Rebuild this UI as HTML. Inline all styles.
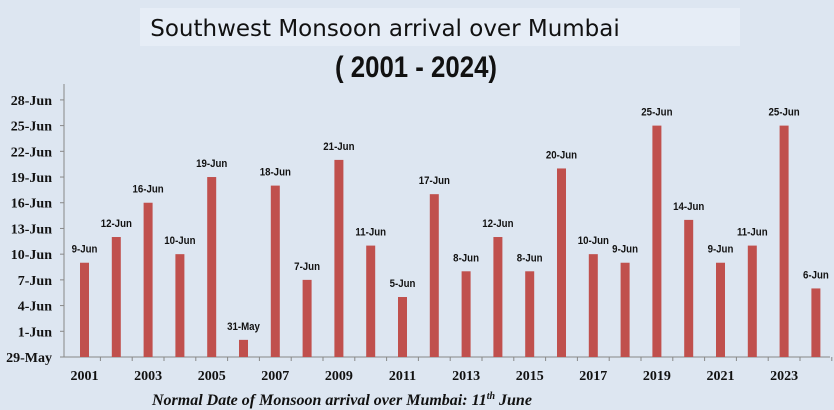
<!DOCTYPE html>
<html><head><meta charset="utf-8"><style>
body{margin:0;width:834px;height:410px;background:#dfe7f1;overflow:hidden;font-family:"Liberation Sans",sans-serif}
svg{display:block}
</style></head><body>
<svg width="834" height="410">
<rect x="0" y="0" width="834" height="410" fill="#dde6f1"/>
<rect x="140" y="8" width="600" height="38" fill="#e6edf6"/>
<text x="385" y="36" text-anchor="middle" font-size="23" fill="#111" font-family="'DejaVu Sans',sans-serif">Southwest Monsoon arrival over Mumbai</text>
<text x="335" y="77" font-size="30" font-weight="bold" fill="#111" textLength="162" lengthAdjust="spacingAndGlyphs" font-family="'Liberation Sans',sans-serif">( 2001 - 2024)</text>
<g id="axes"></g>
<g id="bars"></g>
<text x="152" y="405" font-size="16" font-style="italic" font-weight="bold" font-family="'Liberation Serif',serif" fill="#111">Normal Date of Monsoon arrival over Mumbai: 11<tspan font-size="10" dy="-6">th</tspan><tspan dy="6">  June</tspan></text>
</svg>
<script>
const years=[2001,2002,2003,2004,2005,2006,2007,2008,2009,2010,2011,2012,2013,2014,2015,2016,2017,2018,2019,2020,2021,2022,2023,2024];
const dayValues=[11,14,18,12,21,2,20,9,23,13,7,19,10,14,10,22,12,11,27,16,11,13,27,8];
const valueLabels=["9-Jun","12-Jun","16-Jun","10-Jun","19-Jun","31-May","18-Jun","7-Jun","21-Jun","11-Jun","5-Jun","17-Jun","8-Jun","12-Jun","8-Jun","20-Jun","10-Jun","9-Jun","25-Jun","14-Jun","9-Jun","11-Jun","25-Jun","6-Jun"];
const tickValues=[0,3,6,9,12,15,18,21,24,27,30];
const tickLabels=["29-May","1-Jun","4-Jun","7-Jun","10-Jun","13-Jun","16-Jun","19-Jun","22-Jun","25-Jun","28-Jun"];
const NS="http://www.w3.org/2000/svg";
const y0=357,pxDay=8.57,axX=64,step=31.8,firstX=84.5,bw=9;
const yS=v=>y0-v*pxDay, xS=i=>firstX+i*step;
function mk(t,a,p){const e=document.createElementNS(NS,t);for(const k in a)e.setAttribute(k,a[k]);p.appendChild(e);return e;}
const ax=document.getElementById('axes'),bg=document.getElementById('bars');
const yl=mk('line',{x1:axX,y1:84,x2:axX,y2:y0,stroke:'#888'},ax);


const xl=mk('line',{x1:axX,y1:y0,x2:830,y2:y0,stroke:'#888'},ax);


tickValues.forEach((v,i)=>{
 mk('line',{x1:axX-4,y1:yS(v),x2:axX,y2:yS(v),stroke:'#888'},ax);
 const t=mk('text',{x:axX-12,y:yS(v)+5,'text-anchor':'end','font-size':14,'font-weight':'bold','font-family':"'Liberation Serif',serif",fill:'#111'},ax);
 t.textContent=tickLabels[i];
 
 
});
years.forEach((yr,i)=>{
 const cx=xS(i);
 mk('line',{x1:cx+step/2,y1:y0,x2:cx+step/2,y2:y0+4,stroke:'#888'},ax);
 if(i%2===0){const t=mk('text',{x:cx,y:y0+23,'text-anchor':'middle','font-size':14,'font-weight':'bold','font-family':"'Liberation Serif',serif",fill:'#111'},ax);
 t.textContent=yr;
 
 }
 const r=mk('rect',{x:cx-bw/2,y:yS(dayValues[i]),width:bw,height:dayValues[i]*pxDay,fill:'#c0504d'},bg);
 
 
 const l=mk('text',{x:cx,y:yS(dayValues[i])-10,'text-anchor':'middle','font-size':11,'font-weight':'bold','font-family':"'Liberation Sans',sans-serif",fill:'#111',transform:`translate(${cx*0.12},0) scale(0.88,1)`},bg);
 l.textContent=valueLabels[i];
 
 
});
</script>
</body></html>
